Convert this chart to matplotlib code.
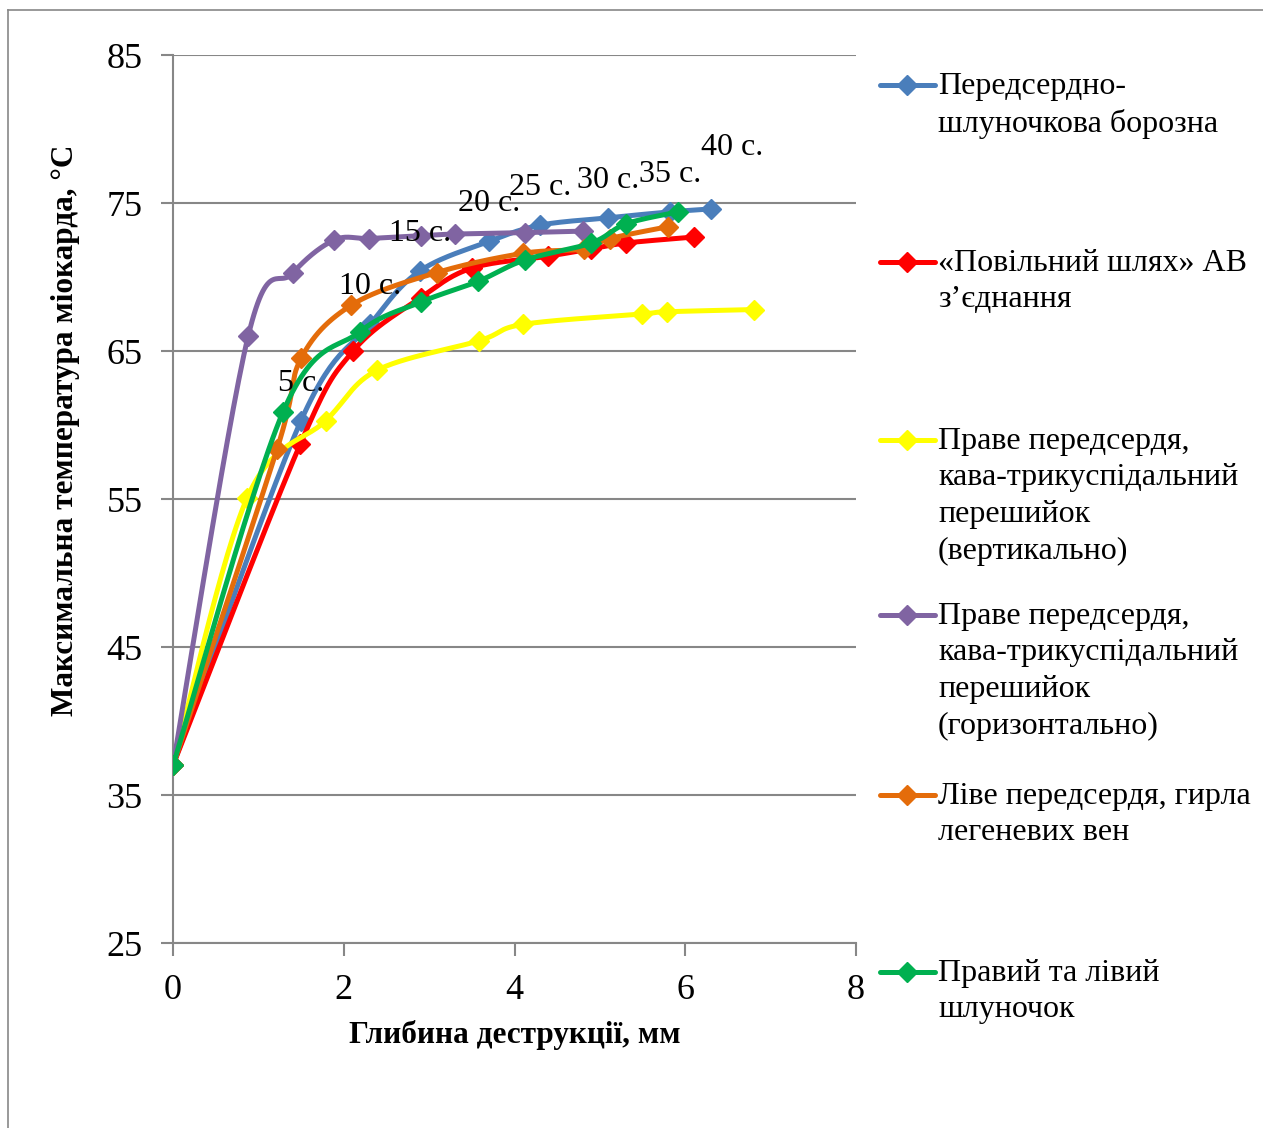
import numpy as np
import matplotlib
matplotlib.use("Agg")
import matplotlib.pyplot as plt
from matplotlib.lines import Line2D

# Depth of destruction (mm) and peak myocardial temperature (°C) per site
depth_avs = [0, 1.50, 2.31, 2.89, 3.70, 4.30, 5.10, 5.82, 6.30]
temp_avs = [37, 60.3, 66.8, 70.4, 72.4, 73.5, 74.0, 74.4, 74.6]

depth_slow = [0, 1.49, 2.11, 2.90, 3.50, 4.39, 4.90, 5.31, 6.10]
temp_slow = [37, 58.7, 65.0, 68.6, 70.6, 71.4, 71.9, 72.3, 72.7]

depth_cti_v = [0, 0.87, 1.79, 2.39, 3.59, 4.10, 5.49, 5.79, 6.80]
temp_cti_v = [37, 55.1, 60.3, 63.7, 65.7, 66.8, 67.5, 67.65, 67.8]

depth_cti_h = [0, 0.88, 1.40, 1.89, 2.30, 2.90, 3.30, 4.12, 4.80]
temp_cti_h = [37, 66.0, 70.25, 72.5, 72.6, 72.8, 72.9, 73.0, 73.1]

depth_la = [0, 1.22, 1.50, 2.09, 3.09, 4.10, 4.81, 5.12, 5.80]
temp_la = [37, 58.4, 64.5, 68.1, 70.3, 71.6, 71.9, 72.6, 73.4]

depth_vent = [0, 1.29, 2.19, 2.90, 3.57, 4.12, 4.90, 5.31, 5.92]
temp_vent = [37, 60.9, 66.3, 68.3, 69.7, 71.15, 72.3, 73.6, 74.4]

labels = [
    "Передсердно-\nшлуночкова борозна",
    "«Повільний шлях» АВ\nз’єднання",
    "Праве передсердя,\nкава-трикуспідальний\nперешийок\n(вертикально)",
    "Праве передсердя,\nкава-трикуспідальний\nперешийок\n(горизонтально)",
    "Ліве передсердя, гирла\nлегеневих вен",
    "Правий та лівий\nшлуночок",
]
colors = ["#4A7EBB", "#FF0000", "#FFFF00", "#8064A2", "#E46C0A", "#00B050"]

# Ablation time labels attached to the AV-groove series points
time_labels = ["5 с.", "10 с.", "15 с.", "20 с.", "25 с.", "30 с.", "35 с.", "40 с."]

x_ticks = [0, 2, 4, 6, 8]
y_ticks = [25, 35, 45, 55, 65, 75, 85]

series = [
    (depth_avs, temp_avs),
    (depth_slow, temp_slow),
    (depth_cti_v, temp_cti_v),
    (depth_cti_h, temp_cti_h),
    (depth_la, temp_la),
    (depth_vent, temp_vent),
]


def smooth(xs, ys, n=30):
    """Cardinal (Catmull-Rom) Bezier smoothing through the given points."""
    p = np.column_stack([xs, ys]).astype(float)
    out = [p[0]]
    t = np.linspace(0, 1, n)[1:, None]
    for i in range(len(p) - 1):
        p0 = p[i - 1] if i > 0 else p[i]
        p1, p2 = p[i], p[i + 1]
        p3 = p[i + 2] if i + 2 < len(p) else p[i + 1]
        c1 = p1 + (p2 - p0) / 6.0
        c2 = p2 - (p3 - p1) / 6.0
        seg = ((1 - t) ** 3) * p1 + 3 * ((1 - t) ** 2) * t * c1 \
            + 3 * (1 - t) * t ** 2 * c2 + t ** 3 * p2
        out.extend(seg)
    out = np.array(out)
    return out[:, 0], out[:, 1]


plt.rcParams["font.family"] = ["Liberation Serif", "DejaVu Serif"]

W, H = 1263, 1128
fig = plt.figure(figsize=(W / 100, H / 100), dpi=100)
fig.patch.set_facecolor("white")

# Outer chart frame: left and top edges
frame_x, frame_y = 8 / W, 1 - 10 / H
fig.add_artist(Line2D([frame_x, frame_x], [0, frame_y], transform=fig.transFigure,
                      color="#888888", linewidth=1.2))
fig.add_artist(Line2D([frame_x, 1], [frame_y, frame_y], transform=fig.transFigure,
                      color="#888888", linewidth=1.2))

ax = fig.add_axes([173 / W, 1 - 943 / H, (856 - 173) / W, (943 - 55) / H])
ax.set_xlim(0, 8)
ax.set_ylim(25, 85)
ax.set_xticks(x_ticks)
ax.set_yticks(y_ticks)
ax.yaxis.grid(True, color="#878787", linewidth=1.5)
ax.set_axisbelow(True)
for s in ("top", "right"):
    ax.spines[s].set_visible(False)
for s in ("left", "bottom"):
    ax.spines[s].set_color("#878787")
    ax.spines[s].set_linewidth(1.5)
ax.tick_params(axis="both", direction="out", length=9, width=1.5,
               color="#878787", labelsize=26, labelcolor="black")
ax.tick_params(axis="y", pad=13)
ax.tick_params(axis="x", pad=13)

for (xs, ys), c in zip(series, colors):
    sx, sy = smooth(xs, ys)
    ax.plot(sx, sy, color=c, linewidth=3.6, solid_capstyle="round", zorder=3)
    ax.plot(xs, ys, linestyle="none", marker="D", markersize=10,
            color=c, zorder=3)

# Time labels above the AV-groove points
offsets = [(0, 27)] * 7 + [(15, 44)]
for xv, yv, txt, off in zip(depth_avs[1:], temp_avs[1:], time_labels, offsets):
    ax.annotate(txt, (xv, yv), xytext=off, textcoords="offset points",
                ha="center", va="center", fontsize=23, zorder=5)

fig.text(66 / W, 1 - 430 / H, "Максимальна температура міокарда, °С",
         rotation=90, ha="center", va="center", fontsize=22.5,
         fontweight="bold")
fig.text(515 / W, 1 - 1035 / H, "Глибина деструкції, мм",
         ha="center", va="center", fontsize=22.5, fontweight="bold")

# Legend drawn as handle + multi-line label per series
legend_y = [85, 262, 440, 615, 795, 972]
for ypix, c, lab in zip(legend_y, colors, labels):
    yf = 1 - ypix / H
    fig.add_artist(Line2D([880 / W, 935 / W], [yf, yf], transform=fig.transFigure,
                          color=c, linewidth=3.6, solid_capstyle="round"))
    fig.add_artist(Line2D([907 / W], [yf], transform=fig.transFigure,
                          color=c, marker="D", markersize=10, linestyle="none"))
    fig.text(938 / W, yf + 13 / H, lab, ha="left", va="top", fontsize=23,
             linespacing=1.34)

fig.savefig("out.png", dpi=100, facecolor="white")
